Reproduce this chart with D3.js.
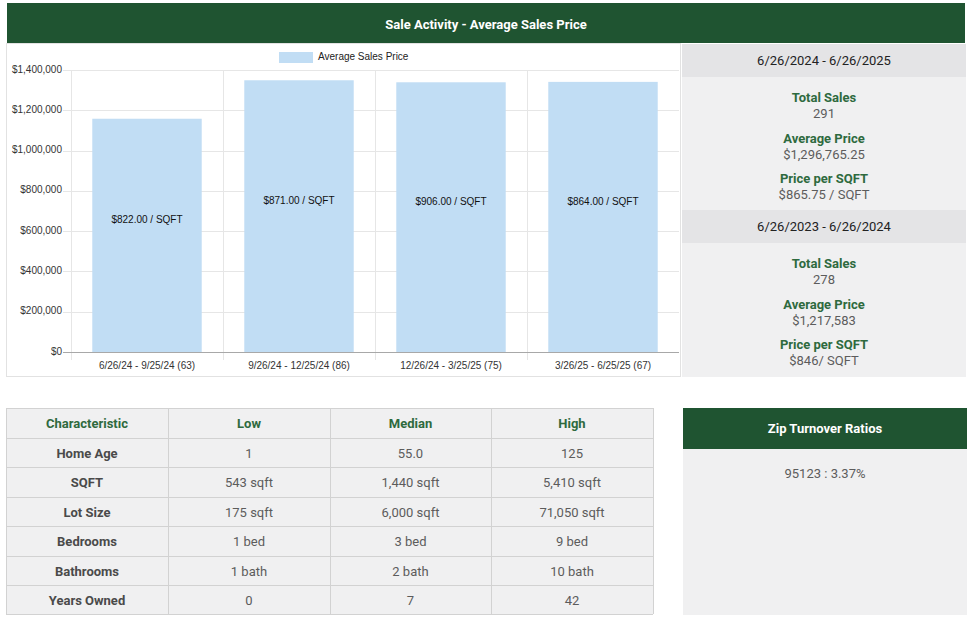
<!DOCTYPE html>
<html><head><meta charset="utf-8">
<script src="https://cdn.jsdelivr.net/npm/d3@7"></script>
<style>
html,body{margin:0;padding:0;background:#fff;}
svg{display:block;}
</style></head>
<body>
<svg id="c" width="973" height="618"></svg>
<script>
const categories = ["6/26/24 - 9/25/24 (63)", "9/26/24 - 12/25/24 (86)", "12/26/24 - 3/25/25 (75)", "3/26/25 - 6/25/25 (67)"];
const avgPrices = [1158000, 1349000, 1339000, 1341000];
const sqftLabels = ["$822.00 / SQFT", "$871.00 / SQFT", "$906.00 / SQFT", "$864.00 / SQFT"];
const yTicks = [0, 200000, 400000, 600000, 800000, 1000000, 1200000, 1400000];
const seriesName = "Average Sales Price";
const title = "Sale Activity - Average Sales Price";

const periods = [
  {range: "6/26/2024 - 6/26/2025", totalSales: "291", avgPrice: "$1,296,765.25", ppsf: "$865.75 / SQFT"},
  {range: "6/26/2023 - 6/26/2024", totalSales: "278", avgPrice: "$1,217,583", ppsf: "$846/ SQFT"}
];
const tableHeader = ["Characteristic", "Low", "Median", "High"];
const tableRows = [
  ["Home Age", "1", "55.0", "125"],
  ["SQFT", "543 sqft", "1,440 sqft", "5,410 sqft"],
  ["Lot Size", "175 sqft", "6,000 sqft", "71,050 sqft"],
  ["Bedrooms", "1 bed", "3 bed", "9 bed"],
  ["Bathrooms", "1 bath", "2 bath", "10 bath"],
  ["Years Owned", "0", "7", "42"]
];
const zipTitle = "Zip Turnover Ratios";
const zipRatios = ["95123 : 3.37%"];

const GREEN = "#1f5431", LABELGREEN = "#2e6a3e", PANEL = "#f0f0f1", BAND = "#e4e4e6";
const svg = d3.select("#c");

// header
svg.append("rect").attr("x",7).attr("y",3).attr("width",958).attr("height",40).attr("fill",GREEN);
svg.append("text").attr("x",486).attr("y",25.5).attr("text-anchor","middle").attr("dominant-baseline","middle")
  .attr("font-family","Roboto").attr("font-weight","bold").attr("font-size",13).attr("fill","#fff").text(title);

// chart frame
svg.append("rect").attr("x",6.5).attr("y",43.5).attr("width",674).attr("height",333).attr("fill","#fff").attr("stroke","#e2e2e2");

const x = d3.scaleBand().domain(categories).range([71, 679]).paddingInner(0).paddingOuter(0);
const y = d3.scaleLinear().domain([0, 1400000]).range([352, 70]);
const g = svg.append("g").attr("font-family","'Liberation Sans', Arial, sans-serif");

// horizontal grid + ticks
g.selectAll(".hg").data(yTicks).enter().append("line")
  .attr("x1",63).attr("x2",679).attr("y1",d=>Math.round(y(d))+0.5).attr("y2",d=>Math.round(y(d))+0.5)
  .attr("stroke",d=>d===0?"#a8a8a8":"#e6e6e6").attr("stroke-width",1);
// vertical grid
const vlines = categories.map(c=>x(c));
g.selectAll(".vg").data(vlines).enter().append("line")
  .attr("x1",d=>Math.round(d)+0.5).attr("x2",d=>Math.round(d)+0.5).attr("y1",70).attr("y2",360)
  .attr("stroke","#e6e6e6");

// bars
const bw = x.bandwidth();
const barW = bw * 0.72;
g.selectAll(".bar").data(avgPrices).enter().append("rect")
  .attr("x",(d,i)=>x(categories[i]) + (bw-barW)/2).attr("width",barW)
  .attr("y",d=>y(d)).attr("height",d=>y(0)-y(d)).attr("fill","#c1ddf4");
g.append("line").attr("x1",63).attr("x2",679).attr("y1",352.5).attr("y2",352.5).attr("stroke","#a8a8a8");

// bar labels
g.selectAll(".bl").data(avgPrices).enter().append("text")
  .attr("x",(d,i)=>x(categories[i]) + bw/2).attr("y",d=>(y(d)+y(0))/2 - 15)
  .attr("text-anchor","middle").attr("dominant-baseline","middle").attr("font-size",10).attr("fill","#111")
  .text((d,i)=>sqftLabels[i]);

// y tick labels
const fmt = d3.format(",");
g.selectAll(".yl").data(yTicks).enter().append("text")
  .attr("x",62).attr("y",d=>y(d)).attr("text-anchor","end").attr("dominant-baseline","middle")
  .attr("font-size",10).attr("fill","#333").text(d=>"$"+fmt(d));
// x labels
g.selectAll(".xl").data(categories).enter().append("text")
  .attr("x",d=>x(d)+bw/2).attr("y",366).attr("text-anchor","middle").attr("dominant-baseline","middle")
  .attr("font-size",10).attr("fill","#333").text(d=>d);

// legend
g.append("rect").attr("x",279).attr("y",52).attr("width",34).attr("height",11).attr("fill","#c1ddf4");
g.append("text").attr("x",318).attr("y",57.5).attr("dominant-baseline","middle").attr("font-size",10).attr("fill","#222").text(seriesName);

// right panel
const rp = svg.append("g").attr("font-family","Roboto");
rp.append("rect").attr("x",682).attr("y",44).attr("width",284).attr("height",333).attr("fill",PANEL);
const cx = 824;
periods.forEach((p,i)=>{
  const top = 44 + i*166;
  rp.append("rect").attr("x",682).attr("y",top).attr("width",284).attr("height",33).attr("fill",BAND);
  rp.append("text").attr("x",cx).attr("y",top+18).attr("text-anchor","middle").attr("dominant-baseline","middle")
    .attr("font-size",13).attr("fill","#222").text(p.range);
  const items = [["Total Sales", p.totalSales],["Average Price", p.avgPrice],["Price per SQFT", p.ppsf]];
  const offs = [54.5, 95.5, 135.5];
  items.forEach((it,j)=>{
    rp.append("text").attr("x",cx).attr("y",top+offs[j]).attr("text-anchor","middle").attr("dominant-baseline","middle")
      .attr("font-size",13).attr("font-weight","bold").attr("fill",LABELGREEN).text(it[0]);
    rp.append("text").attr("x",cx).attr("y",top+offs[j]+16).attr("text-anchor","middle").attr("dominant-baseline","middle")
      .attr("font-size",13).attr("fill","#5c5c5c").text(it[1]);
  });
});

// table
const colX = [6, 168, 330, 491, 653];
const rowY = [408, 437.5, 467, 496.5, 526, 555.5, 585, 614];
const tg = svg.append("g").attr("font-family","Roboto");
tg.append("rect").attr("x",6).attr("y",408).attr("width",647).attr("height",206).attr("fill",PANEL);
const allRows = [tableHeader].concat(tableRows);
allRows.forEach((r,ri)=>{
  r.forEach((v,ci)=>{
    tg.append("text").attr("x",(colX[ci]+colX[ci+1])/2).attr("y",(rowY[ri]+rowY[ri+1])/2+2)
      .attr("text-anchor","middle").attr("dominant-baseline","middle").attr("font-size",13)
      .attr("font-weight", (ri===0||ci===0)?"bold":"normal")
      .attr("fill", ri===0?LABELGREEN:(ci===0?"#4a4a4a":"#5c5c5c")).text(v);
  });
});
rowY.forEach(yy=>tg.append("line").attr("x1",6).attr("x2",653).attr("y1",Math.round(yy)+0.5).attr("y2",Math.round(yy)+0.5).attr("stroke","#d2d2d2"));
colX.forEach(xx=>tg.append("line").attr("x1",xx+0.5).attr("x2",xx+0.5).attr("y1",408).attr("y2",614).attr("stroke","#d2d2d2"));

// zip panel
svg.append("rect").attr("x",683).attr("y",408).attr("width",284).attr("height",41).attr("fill",GREEN);
svg.append("text").attr("x",825).attr("y",430).attr("text-anchor","middle").attr("dominant-baseline","middle")
  .attr("font-family","Roboto").attr("font-weight","bold").attr("font-size",13).attr("fill","#fff").text(zipTitle);
svg.append("rect").attr("x",683).attr("y",449).attr("width",284).attr("height",166).attr("fill",PANEL);
svg.selectAll(".zr").data(zipRatios).enter().append("text").attr("x",825).attr("y",(d,i)=>475+i*20)
  .attr("text-anchor","middle").attr("dominant-baseline","middle").attr("font-family","Roboto")
  .attr("font-size",13).attr("fill","#5c5c5c").text(d=>d);
</script>
</body></html>
